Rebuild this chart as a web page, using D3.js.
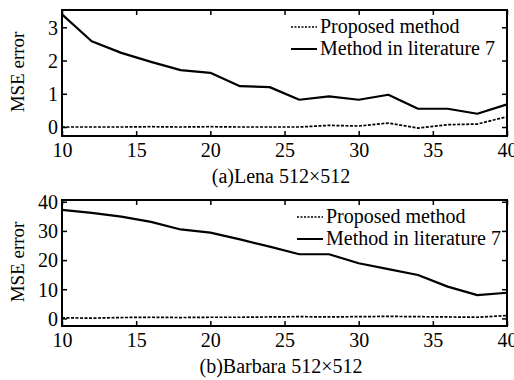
<!DOCTYPE html>
<html>
<head>
<meta charset="utf-8">
<script src="https://cdn.jsdelivr.net/npm/d3@7"></script>
<style>
    body { margin: 0; background: #fff; }
    svg text { font-family: "Liberation Serif", "Times New Roman", serif; fill: #000; }
</style>
</head>
<body>
<svg id="chart" width="514" height="380"></svg>
<script>
// block size (x axis)
var steps = [10, 12, 14, 16, 18, 20, 22, 24, 26, 28, 30, 32, 34, 36, 38, 40];
var xTicks = [10, 15, 20, 25, 30, 35, 40];

// (a) Lena
var lenaProposed = [0.0, 0.0, 0.0, 0.01, 0.0, 0.01, 0.0, 0.0, 0.0, 0.05, 0.03, 0.12, -0.03, 0.07, 0.09, 0.31];
var lenaLit7 = [3.39, 2.58, 2.23, 1.96, 1.71, 1.63, 1.23, 1.2, 0.82, 0.92, 0.82, 0.97, 0.55, 0.55, 0.4, 0.68];
var lenaYTicks = [0, 1, 2, 3];

// (b) Barbara
var barbaraProposed = [0.2, 0.1, 0.3, 0.4, 0.3, 0.4, 0.4, 0.5, 0.6, 0.5, 0.6, 0.7, 0.6, 0.5, 0.4, 1.0];
var barbaraLit7 = [37.2, 36.2, 34.9, 33.1, 30.5, 29.4, 27.1, 24.6, 22.0, 22.0, 18.9, 16.9, 14.9, 10.9, 8.0, 8.8];
var barbaraYTicks = [0, 10, 20, 30, 40];

var legendLabels = ['Proposed method', 'Method in literature 7'];

var svg = d3.select('#chart');

function drawPanel(p) {
    var g = svg.append('g').attr('transform', 'translate(0,' + p.top + ')');
    var dim = { l: 62, r: 507, t: 10, b: 136 };

    var x = d3.scaleLinear().domain([10, 40]).range([dim.l, dim.r]);
    var y = d3.scaleLinear().domain(p.yDomain).range([dim.b, dim.t]);

    //lines
    var line = d3.line()
        .x(function (d, i) { return x(steps[i]); })
        .y(function (d) { return y(d); });
    g.append('path').datum(p.lit7)
        .attr('d', line)
        .attr('fill', 'none')
        .attr('stroke', '#000')
        .attr('stroke-width', 2.2)
        .attr('stroke-linejoin', 'round');
    g.append('path').datum(p.proposed)
        .attr('d', line)
        .attr('fill', 'none')
        .attr('stroke', '#000')
        .attr('stroke-width', 1.7)
        .attr('stroke-dasharray', '3,1.5');

    //axes with inward ticks on all four sides
    var tick = 5;
    var fmt = d3.format('d');
    var axes = [
        d3.axisBottom(x).tickValues(xTicks).tickSize(tick).tickFormat(fmt),
        d3.axisTop(x).tickValues(xTicks).tickSize(tick).tickFormat(''),
        d3.axisLeft(y).tickValues(p.yTicks).tickSize(tick).tickFormat(fmt),
        d3.axisRight(y).tickValues(p.yTicks).tickSize(tick).tickFormat('')
    ];
    var pos = ['translate(0,' + dim.b + ')', 'translate(0,' + dim.t + ')',
        'translate(' + dim.l + ',0)', 'translate(' + dim.r + ',0)'];
    axes.forEach(function (a, i) {
        var ag = g.append('g').attr('transform', pos[i]).call(a);
        ag.select('.domain').remove();
        ag.attr('font-family', null).attr('font-size', null);
        ag.selectAll('line').attr('stroke', '#000').attr('stroke-width', 1.5);
        // flip ticks inward
        if (i === 0) ag.selectAll('.tick line').attr('y2', -tick);
        if (i === 1) ag.selectAll('.tick line').attr('y2', tick);
        if (i === 2) ag.selectAll('.tick line').attr('x2', tick);
        if (i === 3) ag.selectAll('.tick line').attr('x2', -tick);
        ag.selectAll('text').style('font-size', '20px');
        if (i === 0) ag.selectAll('text').attr('y', 7).attr('dy', '0.71em');
        if (i === 2) ag.selectAll('text').attr('x', -4).attr('dy', '0.34em');
    });

    //frame
    g.append('rect')
        .attr('x', dim.l)
        .attr('y', dim.t)
        .attr('width', dim.r - dim.l)
        .attr('height', dim.b - dim.t)
        .attr('fill', 'none')
        .attr('stroke', '#000')
        .attr('stroke-width', 2);

    //y label
    g.append('text')
        .attr('transform', 'translate(24,' + 72 + ') rotate(-90)')
        .attr('text-anchor', 'middle')
        .style('font-size', '19px')
        .text('MSE error');

    //title
    g.append('text')
        .attr('x', 281)
        .attr('y', 183)
        .attr('text-anchor', 'middle')
        .style('font-size', '20px')
        .text(p.title);

    //legend
    legendLabels.forEach(function (label, i) {
        var ly = 33 + i * 22;
        g.append('line')
            .attr('x1', p.legX - 29)
            .attr('x2', p.legX - 3)
            .attr('y1', ly - 6)
            .attr('y2', ly - 6)
            .attr('stroke', '#000')
            .attr('stroke-width', i === 0 ? 1.4 : 2)
            .attr('stroke-dasharray', i === 0 ? '2,1.5' : null);
        g.append('text')
            .attr('x', p.legX)
            .attr('y', ly)
            .style('font-size', '20px')
            .text(label);
    });
}

drawPanel({
    top: 0,
    yDomain: [-0.27, 3.52],
    yTicks: lenaYTicks,
    proposed: lenaProposed,
    lit7: lenaLit7,
    title: '(a)Lena 512\u00d7512',
    legX: 320
});
drawPanel({
    top: 190,
    yDomain: [-2.6, 40.6],
    yTicks: barbaraYTicks,
    proposed: barbaraProposed,
    lit7: barbaraLit7,
    title: '(b)Barbara 512\u00d7512',
    legX: 326
});
</script>
</body>
</html>
